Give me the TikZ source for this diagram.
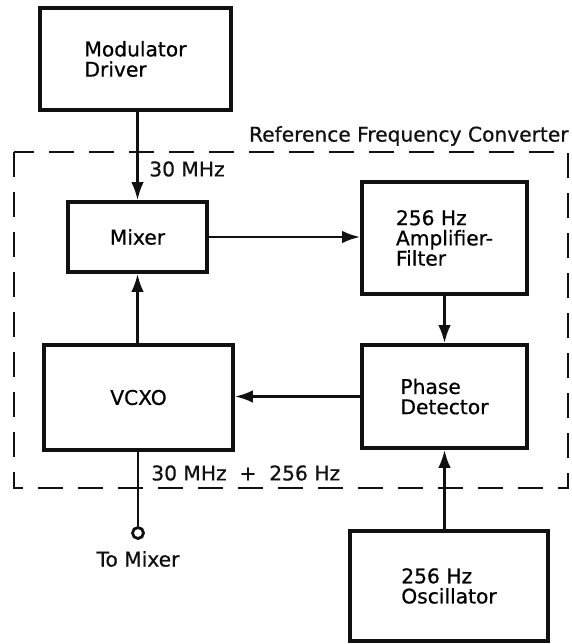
\documentclass[tikz,border=0pt]{standalone}
\usepackage{fontspec}
\setmainfont{DejaVu Sans}[BoldFont=DejaVu Sans, BoldFeatures={FakeBold=0.7}]
\usepackage{tikz}
\usetikzlibrary{positioning, arrows.meta}
\definecolor{bInk}{HTML}{111111}

\begin{document}
\begin{tikzpicture}[x=0.02cm, y=-0.02cm, >={Latex[length=3.6mm, width=2.5mm]},
    block/.style={draw=bInk, line width=2.1pt, align=left, inner sep=0pt,
      font=\fontsize{11.5}{11.5}\selectfont\bfseries},
    lbl/.style={inner sep=0pt, text=bInk, font=\fontsize{11.5}{11.5}\selectfont\bfseries},
    link/.style={->, line width=1.5pt, draw=bInk},
    frame/.style={draw=bInk, line width=1.6pt, dash pattern=on 0.5cm off 0.3cm}]
  \useasboundingbox (0,0) rectangle (571,644);
  % converter outline
  \draw[frame] (14,152) rectangle (568,488);
  \node[lbl, anchor=east] (rfc) at (569,136) {Reference Frequency Converter};
  % blocks
  \node[block, minimum width=3.82cm, minimum height=2.04cm] (mod) at (135.5,59) {Modulator\\Driver};
  \node[block, minimum width=2.78cm, minimum height=1.40cm] (mixer) at (137.5,237) {Mixer};
  \node[block, minimum width=3.30cm, minimum height=2.24cm] (amp) at (444.5,238) {256 Hz\\Amplifier-\\Filter};
  \node[block, minimum width=3.30cm, minimum height=2.06cm] (phase) at (444.5,396.5) {Phase\\Detector};
  \node[block, minimum width=3.78cm, minimum height=2.10cm] (vcxo) at (138.5,397.5) {VCXO};
  \node[block, minimum width=3.96cm, minimum height=2.20cm] (osc) at (449,586) {256 Hz\\Oscillator};
  \node[draw=bInk, circle, line width=1.6pt, minimum size=0.22cm, inner sep=0pt] (out) at (138,533) {};
  % labels
  \node[lbl, anchor=west] (fin) at (149,169) {30 MHz};
  \node[lbl, anchor=west] (fsum) at (151,473) {30 MHz\ \ +\ \ 256 Hz};
  \node[lbl] (tomix) at (138,559) {To Mixer};
  % signal paths
  \draw[link] (mod.south -| mixer.north) -- (mixer.north);
  \draw[link] (mixer.east) -- (mixer.east -| amp.west);
  \draw[link] (amp) -- (phase);
  \draw[link] (phase.west) -- (phase.west -| vcxo.east);
  \draw[link] (vcxo.north -| mixer.south) -- (mixer.south);
  \draw[link] (osc.north -| phase.south) -- (phase.south);
  \draw[line width=1.5pt, draw=bInk] (vcxo.south -| out.north) -- (out.north);
\end{tikzpicture}
\end{document}
